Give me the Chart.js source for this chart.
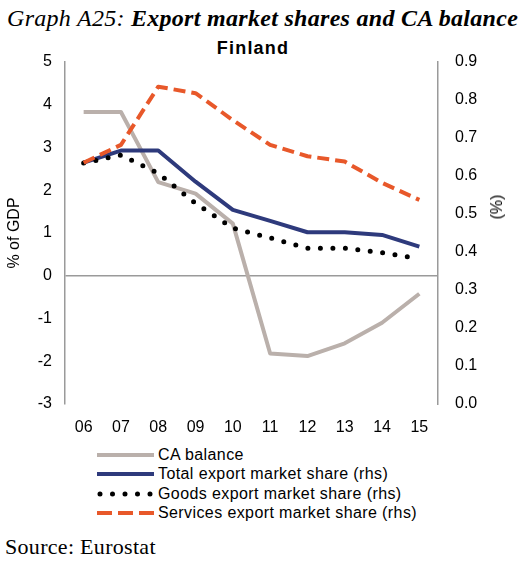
<!DOCTYPE html>
<html>
<head>
<meta charset="utf-8">
<script src="https://cdn.jsdelivr.net/npm/chart.js@4"></script>
<style>
  html, body { margin:0; padding:0; background:#fff; }
  body { width:528px; height:563px; position:relative; overflow:hidden; }
  #wrap { position:absolute; left:0; top:0; width:528px; height:440px; }
  .t { position:absolute; white-space:nowrap; line-height:1; }
  #title { left:7px; top:6px; font-family:"Liberation Serif","Times New Roman",serif; font-size:24px; font-style:italic; letter-spacing:0.3px; }
  #title b { font-weight:bold; margin-left:6px; }
  #sub { left:0; width:506px; text-align:center; top:39px; font-family:"Liberation Sans",Arial,sans-serif; font-size:18px; font-weight:bold; letter-spacing:1.2px; }
  #rtitle { left:497px; top:207px; transform:translate(-50%,-50%) rotate(-90deg); font-family:"Liberation Sans",Arial,sans-serif; font-size:16px; }
  #legend { position:absolute; left:97px; top:445px; font-family:"Liberation Sans",Arial,sans-serif; font-size:16px; letter-spacing:0.4px; }
  .row { height:19.5px; display:flex; align-items:center; }
  .row svg { width:57px; height:10px; margin-right:4px; }
  #source { left:5px; top:536px; font-family:"Liberation Serif","Times New Roman",serif; font-size:22px; letter-spacing:0.3px; }
</style>
</head>
<body>
<div class="t" id="title">Graph A25:<b>Export market shares and CA balance</b></div>
<div class="t" id="sub">Finland</div>
<div id="wrap"><canvas id="c"></canvas></div>
<div class="t" id="rtitle">(%)</div>
<div id="legend"></div>
<div class="t" id="source">Source: Eurostat</div>
<script>
const years = ['06','07','08','09','10','11','12','13','14','15'];
const caBalance = [3.83, 3.83, 2.19, 1.92, 1.22, -1.82, -1.88, -1.58, -1.10, -0.42];
const totalShare = [0.635, 0.667, 0.667, 0.585, 0.511, 0.482, 0.452, 0.452, 0.445, 0.414];
const goodsShare = [0.634, 0.655, 0.607, 0.528, 0.463, 0.437, 0.410, 0.410, 0.398, 0.382];
const servicesShare = [0.635, 0.682, 0.835, 0.818, 0.747, 0.682, 0.652, 0.638, 0.582, 0.537];
const seriesNames = ['CA balance','Total export market share (rhs)','Goods export market share (rhs)','Services export market share (rhs)'];
const leftTicks = [-3,-2,-1,0,1,2,3,4,5];
const rightTicks = [0,0.1,0.2,0.3,0.4,0.5,0.6,0.7,0.8,0.9];

const styles = [
  {color:'#BAB0AB', width:4, dash:[], cap:'butt', legendDash:'none'},
  {color:'#2E3A7C', width:4, dash:[], cap:'butt', legendDash:'none'},
  {color:'#000000', width:5, dash:[0,12.5], cap:'round', legendDash:'0 12.5'},
  {color:'#E8582A', width:4, dash:[12,6], cap:'butt', legendDash:'15 6'}
];
const values = [caBalance, totalShare, goodsShare, servicesShare];
const axes = ['y','y1','y1','y1'];
const orders = [3,2,1,0];

const datasets = values.map((v,i)=>({
  label: seriesNames[i], data: v, yAxisID: axes[i], order: orders[i],
  borderColor: styles[i].color, backgroundColor: styles[i].color,
  borderWidth: styles[i].width, borderDash: styles[i].dash, borderCapStyle: styles[i].cap,
  borderJoinStyle: 'round', pointRadius:0, tension:0, fill:false
}));

const tickFont = {family:'"Liberation Sans", Arial, sans-serif', size:16};
new Chart(document.getElementById('c'), {
  type:'line',
  data:{labels:years, datasets},
  options:{
    responsive:true, maintainAspectRatio:false, animation:false,
    layout:{padding:{top:62, left:0, right:0, bottom:0}},
    plugins:{legend:{display:false}, tooltip:{enabled:false}},
    scales:{
      x:{
        offset:true,
        grid:{display:false, drawTicks:false}, border:{display:false},
        ticks:{font:tickFont, color:'#000', padding:14, maxRotation:0, autoSkip:false},
        afterFit:s=>{s.height=36;}
      },
      y:{
        position:'left', min:leftTicks[0], max:leftTicks[leftTicks.length-1],
        afterBuildTicks:s=>{s.ticks=leftTicks.map(v=>({value:v}));},
        ticks:{font:tickFont, color:'#000', padding:13},
        grid:{drawTicks:false, lineWidth:1.5, color:c=>c.tick && c.tick.value===0 ? '#9A9A9A' : 'rgba(0,0,0,0)'},
        border:{display:true, color:'#9A9A9A', width:1.5},
        title:{display:true, text:'% of GDP', font:tickFont, color:'#000', padding:{top:5,bottom:0}},
        afterFit:s=>{s.width=65;}
      },
      y1:{
        position:'right', min:rightTicks[0], max:rightTicks[rightTicks.length-1],
        afterBuildTicks:s=>{s.ticks=rightTicks.map(v=>({value:v}));},
        ticks:{font:tickFont, color:'#000', padding:17, callback:v=>Number(v).toFixed(1)},
        grid:{display:false, drawTicks:false},
        border:{display:true, color:'#9A9A9A', width:1.5},
        afterFit:s=>{s.width=90;}
      }
    }
  }
});

const leg = document.getElementById('legend');
seriesNames.forEach((name,i)=>{
  const st = styles[i];
  const row = document.createElement('div'); row.className='row';
  const x1 = st.cap==='round' ? 3 : 0, x2 = st.cap==='round' ? 54 : 57;
  row.innerHTML = `<svg viewBox="0 0 57 10"><line x1="${x1}" y1="5" x2="${x2}" y2="5" stroke="${st.color}" stroke-width="${st.width}" stroke-dasharray="${st.legendDash}" stroke-linecap="${st.cap}"/></svg><span>${name}</span>`;
  leg.appendChild(row);
});
</script>
</body>
</html>
